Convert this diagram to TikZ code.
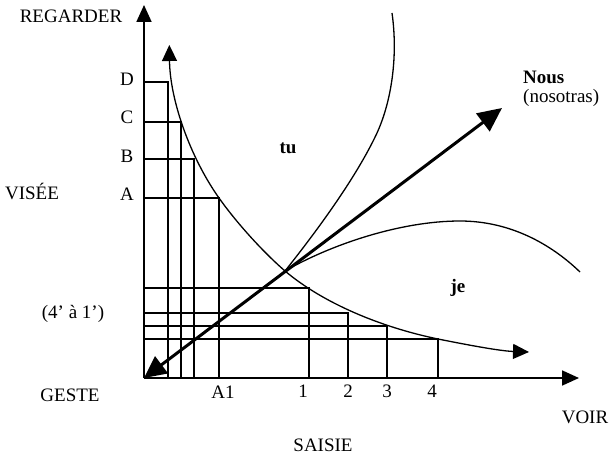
\documentclass[tikz,border=0pt]{standalone}
\usepackage{fontspec}
\setmainfont{Liberation Serif}
\usetikzlibrary{arrows.meta}
\begin{document}
\begin{tikzpicture}[x=1pt,y=-1pt,
  grid/.style={line width=1.3pt},
  axis/.style={line width=1.8pt,-{Triangle[length=17pt,width=15pt]}},
  curve/.style={line width=1.3pt},
  lbl/.style={font=\fontsize{19}{21}\selectfont, inner sep=0pt},
  blbl/.style={font=\fontsize{19}{21}\selectfont\bfseries, inner sep=0pt}]
\useasboundingbox (0,0) rectangle (609,457);
\fill[white] (0,0) rectangle (609,457);
% key points
\coordinate (O) at (144,378);
\coordinate (Ytop) at (144,5);
\coordinate (Xend) at (579,378);
\coordinate (X) at (285,271);
% grid lines (upper set)
\draw[grid] (144,82) -- (168,82) -- (168,378);
\draw[grid] (144,122) -- (181,122) -- (181,378);
\draw[grid] (144,159) -- (194,159) -- (194,378);
\draw[grid] (144,198) -- (219,198) -- (219,378);
% grid lines (lower set)
\draw[grid] (144,288) -- (309,288) -- (309,378);
\draw[grid] (144,313) -- (348,313) -- (348,378);
\draw[grid] (144,326) -- (387,326) -- (387,378);
\draw[grid] (144,339) -- (438,339) -- (438,378);
% axes
\draw[axis] (O) -- (Ytop);
\draw[axis] (O) -- (Xend);
% decreasing curve with arrows at both ends
\draw[curve,{Triangle[length=16pt,width=15pt]}-{Triangle[length=16pt,width=15pt]}]
  (169.3,45) .. controls (170,100) and (190,157) .. (219,198)
  .. controls (236,222) and (262,251) .. (X)
  .. controls (323,303) and (380,327) .. (438,339)
  .. controls (468,345) and (500,351) .. (529,352);
% tu curve
\draw[curve] (392,13) .. controls (398,55) and (392,100) .. (377,133)
  .. controls (356,178) and (316,232) .. (X);
% je curve
\draw[curve] (X) .. controls (330,245) and (400,221) .. (460,221)
  .. controls (510,221) and (551,244) .. (580,272);
% Nous arrow
\draw[line width=3pt,{Triangle[length=22pt,width=21pt]}-{Triangle[length=24pt,width=22pt]}] (O) -- (502,108);
% labels
\node[lbl] (regarder) at (71,16) {REGARDER};
\node[lbl] (d) at (127,79) {D};
\node[lbl] (c) at (127,117) {C};
\node[lbl] (b) at (127,156) {B};
\node[lbl] (a) at (127,194) {A};
\node[lbl] (visee) at (32,191) {VISÉE};
\node[lbl] (quatre) at (73,314) {(4’ à 1’)};
\node[lbl] (geste) at (70,395) {GESTE};
\node[lbl] (a1) at (223,392) {A1};
\node[lbl] (n1) at (303,391) {1};
\node[lbl] (n2) at (348,391) {2};
\node[lbl] (n3) at (387,391) {3};
\node[lbl] (n4) at (432,391) {4};
\node[lbl] (voir) at (585,417) {VOIR};
\node[lbl] (saisie) at (323,445) {SAISIE};
\node[blbl] (tu) at (288,148) {tu};
\node[blbl] (je) at (458,288) {je};
\node[blbl,anchor=west] (nous) at (523,77) {Nous};
\node[lbl,anchor=west] (nosotras) at (523,98) {(nosotras)};
\end{tikzpicture}
\end{document}
